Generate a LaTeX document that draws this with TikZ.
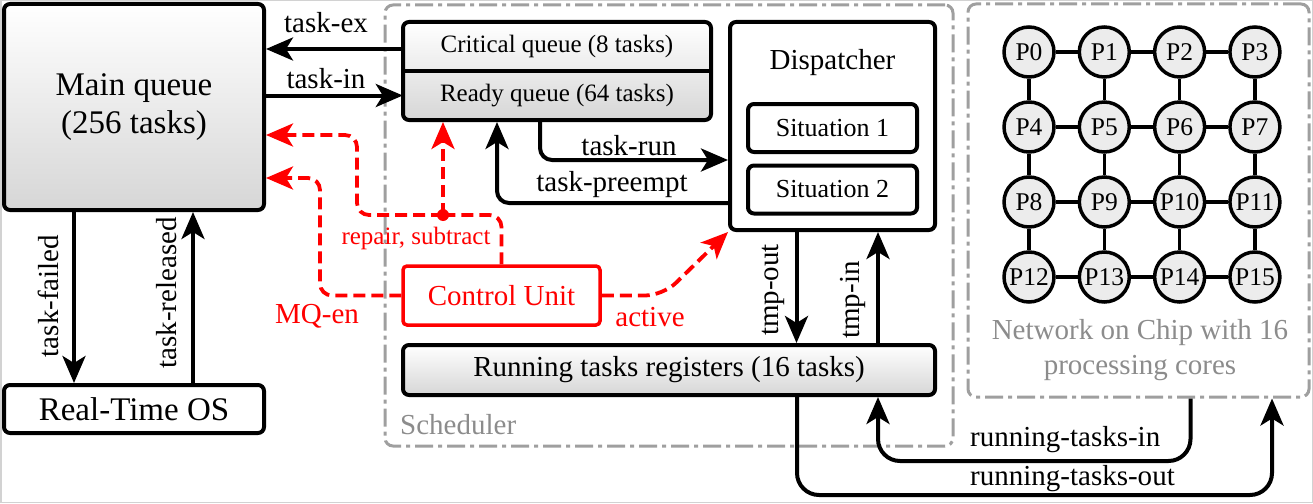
\documentclass[tikz,border=0pt]{standalone}
\usepackage{fontspec}
\setmainfont{Liberation Serif}
\usetikzlibrary{arrows.meta}
\begin{document}
\begin{tikzpicture}[x=1pt,y=-1pt,
  fA/.style={font=\fontsize{33}{38}\selectfont},
  fB/.style={font=\fontsize{29}{35}\selectfont},
  fC/.style={font=\fontsize{25}{30}\selectfont},
  fD/.style={font=\fontsize{26}{31}\selectfont},
  box/.style={draw, line width=4pt, rounded corners=6pt, inner sep=0pt},
  shadebox/.style={top color=white, bottom color=gray!32},
  arr/.style={line width=4pt, -{Stealth[length=27pt,width=23pt,inset=7pt]}},
  redarr/.style={draw=red, line width=3.8pt, dash pattern=on 12pt off 6pt, -{Stealth[length=27pt,width=23pt,inset=7pt,fill=red,sep=0pt]}},
  reddash/.style={draw=red, line width=3.8pt, dash pattern=on 12pt off 6pt},
  grayframe/.style={draw=gray!75, line width=3pt, rounded corners=8pt, dash pattern=on 18pt off 5pt on 4pt off 5pt, inner sep=0pt},
  core/.style={circle, draw, line width=3.5pt, fill=gray!15, minimum size=50pt, inner sep=0pt, font=\fontsize{25.5}{30}\selectfont},
  redlab/.style={text=red, inner sep=0pt},
  graylab/.style={text=gray!90, inner sep=0pt}
]
\useasboundingbox (0,0) rectangle (1313,503);
\draw[gray!35, line width=1.5pt] (0.75,0.75) rectangle (1312.25,502.25);

% frames
\node[grayframe, minimum width=568pt, minimum height=441pt] (sched) at (669,225.5) {};
\node[grayframe, minimum width=341pt, minimum height=393pt] (noc) at (1138.5,200.5) {};
\node[graylab, fB, anchor=west] (schedlab) at (400,425) {Scheduler};
\node[graylab, fB, align=center] (noclab) at (1140,350) {Network on Chip with 16\\processing cores};

% main blocks
\node[box, shadebox, minimum width=260pt, minimum height=206pt, align=center, fA] (mq) at (134,107) {Main queue\\(256 tasks)};
\node[box, minimum width=260pt, minimum height=48pt, fA] (rtos) at (134,409) {Real-Time OS};

\node[box, shadebox, minimum width=308pt, minimum height=98pt] (qbox) at (557,71) {};
\node[minimum width=308pt, minimum height=49pt, inner sep=0pt, fC] (crit) at (557,46.5) {Critical queue (8 tasks)};
\node[minimum width=308pt, minimum height=49pt, inner sep=0pt, fC] (ready) at (557,95.5) {Ready queue (64 tasks)};
\draw[line width=4pt] (qbox.west |- crit.south) -- (qbox.east |- crit.south);

\node[box, minimum width=205pt, minimum height=208pt] (disp) at (832.5,126) {};
\node[fB, inner sep=0pt] (disptxt) at (832.5,63) {Dispatcher};
\node[box, minimum width=169pt, minimum height=48pt, fD] (s1) at (832.5,128) {Situation 1};
\node[box, minimum width=169pt, minimum height=48pt, fD] (s2) at (832.5,189.5) {Situation 2};

\node[box, shadebox, minimum width=532pt, minimum height=50pt, fB] (run) at (669,370) {Running tasks registers (16 tasks)};

\node[draw=red, line width=3.5pt, rounded corners=4pt, minimum width=197pt, minimum height=59pt, text=red, inner sep=0pt, fB] (cu) at (501.5,295.5) {Control Unit};

% cores
\foreach \i in {0,...,15} {
  \pgfmathtruncatemacro\cc{mod(\i,4)}
  \pgfmathtruncatemacro\rr{div(\i,4)}
  \node[core] (p\i) at ({1029+75.3*\cc},{52+75*\rr}) {P\i};
}
\foreach \a/\b in {0/1,1/2,2/3,4/5,5/6,6/7,8/9,9/10,10/11,12/13,13/14,14/15,
                   0/4,4/8,8/12,1/5,5/9,9/13,2/6,6/10,10/14,3/7,7/11,11/15}
  \draw[line width=3.5pt] (p\a) -- (p\b);

% black connectors
\draw[arr] (crit.west |- 0,49) -- (mq.east |- 0,49);
\draw[arr] (mq.east |- ready.west) -- (ready.west);
\node[fB, inner sep=0pt] (lex) at (326,23) {task-ex};
\node[fB, inner sep=0pt] (lin) at (326,79) {task-in};

\draw[arr] ([xshift=-60pt]mq.south) -- ([xshift=-60pt]rtos.north);
\draw[arr] ([xshift=59pt]rtos.north) -- ([xshift=59pt]mq.south);
\node[fB, rotate=90, inner sep=0pt] (lfail) at (48,296) {task-failed};
\node[fB, rotate=90, inner sep=0pt] (lrel) at (167,293) {task-released};

\draw[arr, rounded corners=12pt] ([xshift=-17pt]qbox.south) |- (disp.west |- 0,160);
\draw[arr, rounded corners=12pt] (disp.west |- 0,203) -| ([xshift=-60pt]qbox.south);
\node[fB, inner sep=0pt] (lrun) at (629,146) {task-run};
\node[fB, inner sep=0pt] (lpre) at (612,185) {task-preempt};

\draw[arr] ([xshift=-36pt]disp.south) -- ([xshift=-36pt]disp.south |- run.north);
\draw[arr] ([xshift=209pt]run.north) -- ([xshift=209pt]run.north |- disp.south);
\node[fB, rotate=90, inner sep=0pt] (ltout) at (773,290) {tmp-out};
\node[fB, rotate=90, inner sep=0pt] (ltin) at (853,300) {tmp-in};

\coordinate (rtoY) at (0,495);
\coordinate (rtiY) at (0,461);
\draw[arr, rounded corners=22pt] ([xshift=128pt]run.south) |- ([xshift=133.5pt]noc.south |- rtoY) -- ([xshift=133.5pt]noc.south);
\draw[arr, rounded corners=22pt] ([xshift=52pt]noc.south) |- ([xshift=209pt]run.south |- rtiY) -- ([xshift=209pt]run.south);
\node[fB, anchor=west, inner sep=0pt] (lrti) at (970,440) {running-tasks-in};
\node[fB, anchor=west, inner sep=0pt] (lrto) at (970,479) {running-tasks-out};

% red connectors
\coordinate (mqen) at (320,178);
\draw[redarr, rounded corners=12pt] (cu.west) -| (mqen) -- (mqen -| mq.east);
\coordinate (rdot) at (443,215);
\coordinate (rbend) at (357,135);
\draw[reddash, rounded corners=12pt] (cu.north) |- (rdot);
\draw[redarr, rounded corners=12pt] (rdot) -| (rbend) -- (rbend -| mq.east);
\draw[redarr] (rdot) -- (rdot |- qbox.south);
\fill[red] (rdot) circle (6pt);
\draw[redarr, rounded corners=18pt] (cu.east) -- (663,295.5) -- (disp.south west);
\node[redlab, fC] (lrep) at (416,238) {repair, subtract};
\node[redlab, fB] (lmq) at (317,316) {MQ-en};
\node[redlab, fB] (lact) at (650,317) {active};
\end{tikzpicture}
\end{document}
